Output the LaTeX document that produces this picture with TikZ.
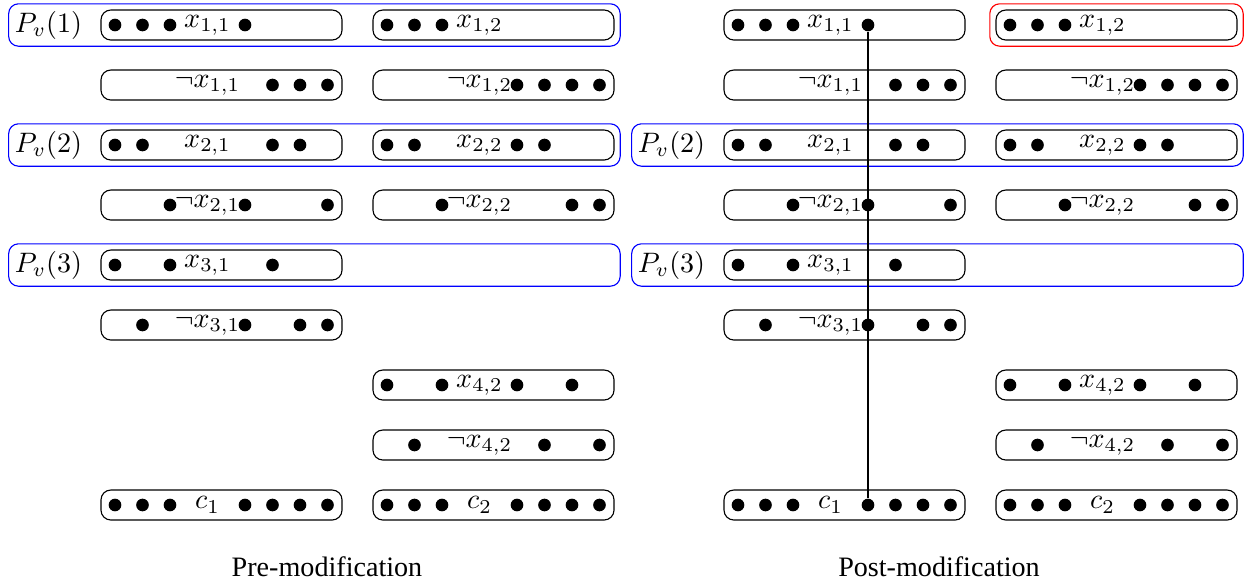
\documentclass[tikz,border=0pt]{standalone}
\usepackage{fontspec}
\newfontfamily\capfont{Liberation Serif}
\usetikzlibrary{fit,positioning}

\tikzstyle{lit} = [rectangle, draw, rounded corners=3.5pt,
    minimum width=3.0125cm, minimum height=0.375cm, inner sep=0pt]
\tikzstyle{vtx} = [circle, fill, inner sep=0pt, minimum size=4.5pt]
\tikzstyle{plabel} = [inner sep=0pt]
\tikzstyle{group} = [rectangle, draw=blue, rounded corners=3.5pt, inner sep=2pt]
\tikzstyle{modgroup} = [group, draw=red]

\newcommand{\litbox}[5]{%
  \node [lit] (#1) at (#2,{-0.3125-0.75*#3}) {};
  \node (#1-l) at ([xshift=-0.175cm]#1.center) {#4};
  \foreach \s in {#5} {
    \pgfmathsetmacro{\sx}{{-1.33125,-0.9875,-0.64375,0.29375,0.6375,0.98125,1.325}[\s-1]}
    \node [vtx] (#1-\s) at ([xshift=\sx cm]#1.center) {};
  }%
}

\begin{document}
\begin{tikzpicture}
    \useasboundingbox (0,0) rectangle (15.5875,-7.325);

    \foreach \p/\dx in {pre/0,post/7.7875} {
      \begin{scope}[xshift=\dx cm]
        \litbox{\p-x11}{2.76875}{0}{$x_{1,1}$}{1,2,3,4}
        \litbox{\p-x12}{6.16875}{0}{$x_{1,2}$}{1,2,3}
        \litbox{\p-nx11}{2.76875}{1}{$\neg x_{1,1}$}{5,6,7}
        \litbox{\p-nx12}{6.16875}{1}{$\neg x_{1,2}$}{4,5,6,7}
        \litbox{\p-x21}{2.76875}{2}{$x_{2,1}$}{1,2,5,6}
        \litbox{\p-x22}{6.16875}{2}{$x_{2,2}$}{1,2,4,5}
        \litbox{\p-nx21}{2.76875}{3}{$\neg x_{2,1}$}{3,4,7}
        \litbox{\p-nx22}{6.16875}{3}{$\neg x_{2,2}$}{3,6,7}
        \litbox{\p-x31}{2.76875}{4}{$x_{3,1}$}{1,3,5}
        \litbox{\p-nx31}{2.76875}{5}{$\neg x_{3,1}$}{2,4,6,7}
        \litbox{\p-x42}{6.16875}{6}{$x_{4,2}$}{1,3,4,6}
        \litbox{\p-nx42}{6.16875}{7}{$\neg x_{4,2}$}{2,5,7}
        \litbox{\p-c1}{2.76875}{8}{$c_1$}{1,2,3,4,5,6,7}
        \litbox{\p-c2}{6.16875}{8}{$c_2$}{1,2,3,4,5,6,7}
      \end{scope}
    }

    \node [plabel] (pre-p1) at (0.60625,-0.3125) {$P_v(1)$};
    \node [group, fit=(pre-p1)(pre-x12)] (pre-g1) {};
    \node [plabel] (pre-p2) at (0.60625,-1.8125) {$P_v(2)$};
    \node [group, fit=(pre-p2)(pre-x22)] (pre-g2) {};
    \node [plabel] (pre-p3) at (0.60625,-3.3125) {$P_v(3)$};
    \coordinate (pre-e3) at (pre-x22.east |- pre-x31);
    \node [group, fit=(pre-p3)(pre-x31)(pre-e3)] (pre-g3) {};

    \node [modgroup, fit=(post-x12)] (post-g1) {};
    \node [plabel] (post-p2) at (8.39375,-1.8125) {$P_v(2)$};
    \node [group, fit=(post-p2)(post-x22)] (post-g2) {};
    \node [plabel] (post-p3) at (8.39375,-3.3125) {$P_v(3)$};
    \coordinate (post-e3) at (post-x22.east |- post-x31);
    \node [group, fit=(post-p3)(post-x31)(post-e3)] (post-g3) {};

    \draw (post-x11-4) -- (post-c1-4);

    \node [anchor=base] (pre-cap) at (4.0875,-7.2) {\capfont Pre-modification};
    \node [anchor=base] (post-cap) at (11.7375,-7.2) {\capfont Post-modification};
\end{tikzpicture}
\end{document}
